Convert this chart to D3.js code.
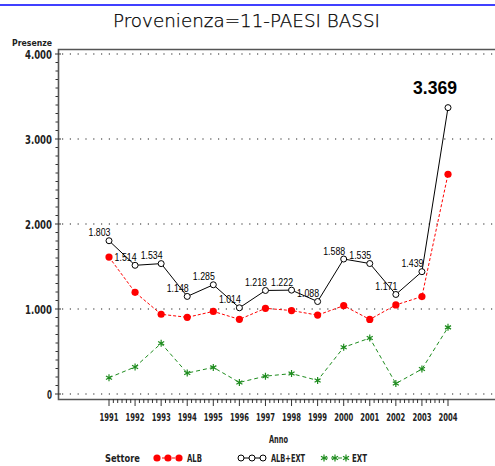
<!DOCTYPE html>
<html><head><meta charset="utf-8">
<script src="https://cdn.jsdelivr.net/npm/d3@7"></script>
<style>html,body{margin:0;padding:0;background:#fff;}svg{display:block;}</style>
</head><body>
<script>
const years = [1991,1992,1993,1994,1995,1996,1997,1998,1999,2000,2001,2002,2003,2004];
const alb    = [1611,1196,938,902,972,878,1008,982,928,1039,877,1048,1146,2585];
const albExt = [1803,1514,1534,1148,1285,1014,1218,1222,1088,1588,1535,1171,1439,3369];
const ext    = [192,318,596,246,313,136,210,240,160,549,658,123,293,784];
const yTicks = [0,1000,2000,3000,4000];
const title = "Provenienza=11-PAESI BASSI";
const seriesNames = ["ALB","ALB+EXT","EXT"];

const W = 495, H = 466;
const svg = d3.select("body").append("svg").attr("width", W).attr("height", H);
const narrow = "'DejaVu Sans Condensed','Liberation Sans Narrow',sans-serif";
const fmt = v => d3.format(",")(v).replace(/,/g, ".");

const x = d3.scaleLinear().domain([1991, 2004]).range([109, 448]);
const y = d3.scaleLinear().domain([0, 4000]).range([394, 54]);

function fit(sel, w){ sel.attr("textLength", w).attr("lengthAdjust","spacingAndGlyphs"); return sel; }

// top blue rule
svg.append("line").attr("x1",0).attr("x2",W).attr("y1",5).attr("y2",5)
  .attr("stroke","#0000ff").attr("stroke-width",1.5);

// title
fit(svg.append("text").attr("x",113).attr("y",27), 267)
  .style("font-family","'DejaVu Sans',sans-serif").style("font-size","18px").style("font-weight","200")
  .attr("fill","#000").attr("stroke","#000").attr("stroke-width",0.25).text(title);

// gridlines
svg.append("g").selectAll("line").data(yTicks).join("line")
  .attr("x1",62).attr("x2",W).attr("y1",d=>y(d)).attr("y2",d=>y(d))
  .attr("stroke","#222").attr("stroke-width",1.2).attr("stroke-dasharray","1.2,6.6");

// frame
svg.append("path").attr("d",`M${W},49.5H58.5V399.5H${W}`)
  .attr("stroke","#555").attr("stroke-width",1.6).attr("fill","none");

// y axis ticks
const yMinor = d3.range(0, 4001, 100);
svg.append("g").selectAll("line").data(yMinor).join("line")
  .attr("x1",d=> d%1000===0 ? 55 : 55.5).attr("x2",d=> d%1000===0 ? 61 : 58)
  .attr("y1",d=>y(d)).attr("y2",d=>y(d)).attr("stroke","#333").attr("stroke-width",1);
svg.append("g").selectAll("text").data(yTicks).join("text")
  .attr("x",52).attr("y",d=>y(d)+5).attr("text-anchor","end")
  .attr("textLength",d=> d===0 ? 5 : 27).attr("lengthAdjust","spacingAndGlyphs")
  .style("font-family",narrow).style("font-size","13px").style("font-weight","bold")
  .attr("fill","#222").text(d=>fmt(d));
fit(svg.append("text").attr("x",12).attr("y",46), 40)
  .style("font-family",narrow).style("font-size","9.5px").style("font-weight","bold")
  .attr("fill","#222").text("Presenze");

// x axis ticks
const xMinor = d3.range(0, 13*6+1).map(i => 1991 + i/6);
svg.append("g").selectAll("line").data(xMinor).join("line")
  .attr("x1",d=>x(d)).attr("x2",d=>x(d))
  .attr("y1",399).attr("y2",(d,i)=> i%6===0 ? 406 : 403)
  .attr("stroke","#333").attr("stroke-width",1);
svg.append("g").selectAll("text").data(years).join("text")
  .attr("x",d=>x(d)-9.5).attr("y",421)
  .attr("textLength",19).attr("lengthAdjust","spacingAndGlyphs")
  .style("font-family",narrow).style("font-size","11px").style("font-weight","bold")
  .attr("fill","#222").text(d=>d);
fit(svg.append("text").attr("x",269).attr("y",443), 19)
  .style("font-family",narrow).style("font-size","10.5px").style("font-weight","bold")
  .attr("fill","#222").text("Anno");

// series
const line = d3.line().x((d,i)=>x(years[i])).y(d=>y(d));
svg.append("path").datum(ext).attr("d",line).attr("fill","none")
  .attr("stroke","#1e8c1e").attr("stroke-width",1).attr("stroke-dasharray","4,3");
svg.append("path").datum(alb).attr("d",line).attr("fill","none")
  .attr("stroke","#ff0000").attr("stroke-width",1).attr("stroke-dasharray","3,2");
svg.append("path").datum(albExt).attr("d",line).attr("fill","none")
  .attr("stroke","#000").attr("stroke-width",1);

const star = d3.symbol(d3.symbolAsterisk, 34);
function drawStar(g, cx, cy){ g.append("path").attr("d",star()).attr("transform",`translate(${cx},${cy})`)
  .attr("fill","none").attr("stroke","#1e8c1e").attr("stroke-width",1.2); }
function drawDot(g, cx, cy){ g.append("circle").attr("cx",cx).attr("cy",cy).attr("r",3.6).attr("fill","#ff0000"); }
function drawRing(g, cx, cy){ g.append("circle").attr("cx",cx).attr("cy",cy).attr("r",3).attr("fill","#fff")
  .attr("stroke","#000").attr("stroke-width",1); }

const mk = svg.append("g");
ext.forEach((v,i)=>drawStar(mk, x(years[i]), y(v)));
alb.forEach((v,i)=>drawDot(mk, x(years[i]), y(v)));
albExt.forEach((v,i)=>drawRing(mk, x(years[i]), y(v)));

// labels on ALB+EXT
const last = albExt.length - 1;
svg.append("g").selectAll("text").data(albExt).join("text")
  .attr("x",(d,i)=> i===last ? x(years[i])-35 : x(years[i])-20.5)
  .attr("y",(d,i)=> i===last ? y(d)-14 : y(d)-4.5)
  .attr("textLength",(d,i)=> i===last ? 44 : 22).attr("lengthAdjust","spacingAndGlyphs")
  .style("font-family","'Liberation Sans',Arial,sans-serif")
  .style("font-size",(d,i)=> i===last ? "18px" : "10.5px")
  .style("font-weight",(d,i)=> i===last ? "bold" : "normal")
  .attr("fill","#000").text(d=>fmt(d));

// legend
const lg = svg.append("g");
const ly = 458;
fit(lg.append("text").attr("x",105).attr("y",ly+4), 35)
  .style("font-family",narrow).style("font-size","10.5px").style("font-weight","bold").attr("fill","#222").text("Settore");
const legendDefs = [
  {name: seriesNames[0], x0:157, color:"#ff0000", dash:"3,2", draw:drawDot, tx:187, tw:15},
  {name: seriesNames[1], x0:241, color:"#000", dash:null, draw:drawRing, tx:271, tw:34},
  {name: seriesNames[2], x0:324, color:"#1e8c1e", dash:"4,3", draw:drawStar, tx:352, tw:15}
];
legendDefs.forEach(L=>{
  lg.append("line").attr("x1",L.x0).attr("x2",L.x0+22).attr("y1",ly).attr("y2",ly)
    .attr("stroke",L.color).attr("stroke-width",1).attr("stroke-dasharray",L.dash);
  [0,11,22].forEach(o=>L.draw(lg, L.x0+o, ly));
  fit(lg.append("text").attr("x",L.tx).attr("y",ly+4), L.tw)
    .style("font-family",narrow).style("font-size","10.5px").style("font-weight","bold").attr("fill","#222").text(L.name);
});
</script>
</body></html>
